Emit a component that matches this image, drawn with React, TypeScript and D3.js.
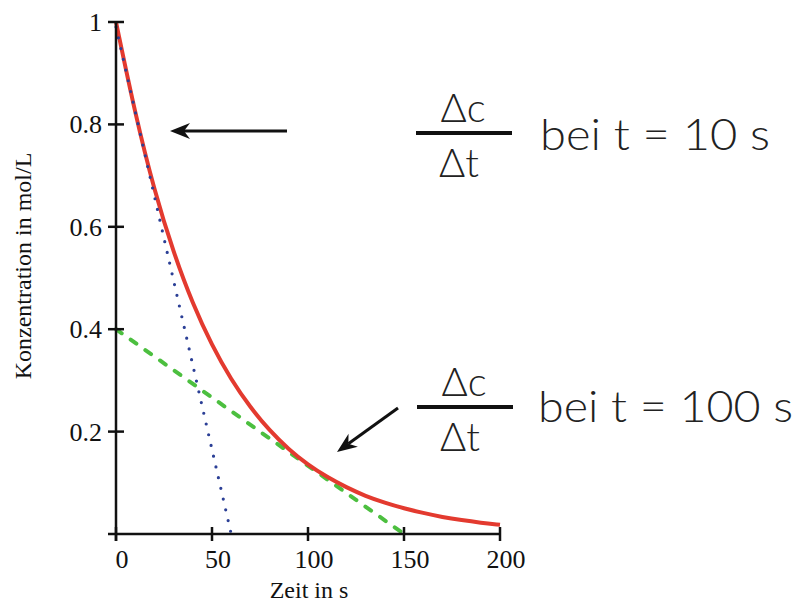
import { useMemo } from "react";
import * as d3 from "d3";

// Konzentration (mol/L) über der Zeit (s)
const times = [0, 10, 20, 30, 40, 50, 60, 70, 80, 90, 100, 110, 120, 130, 140, 150, 160, 170, 180, 190, 200];
const conc = [1.0, 0.82, 0.67, 0.549, 0.449, 0.368, 0.301, 0.247, 0.202, 0.165, 0.135, 0.111, 0.091, 0.074, 0.061, 0.05, 0.041, 0.033, 0.027, 0.022, 0.018];

// Tangenten (Endpunkte)
const tangent10 = [[0, 0.99], [60, 0]];
const tangent100 = [[0, 0.4], [150, 0]];

const xTicks = [0, 50, 100, 150, 200];
const yTicks = [0.2, 0.4, 0.6, 0.8, 1];
const yTickLabels = ["0.2", "0.4", "0.6", "0.8", "1"];

const serif = "'Liberation Serif', 'Times New Roman', serif";
const sans = "Lato, 'DejaVu Sans', sans-serif";

function Arrow({ x1, y1, x2, y2 }: { x1: number; y1: number; x2: number; y2: number }) {
  const a = Math.atan2(y2 - y1, x2 - x1);
  const len = 20, half = 8, notch = 14;
  const pt = (d: number, o: number) => [
    x2 - d * Math.cos(a) - o * Math.sin(a),
    y2 - d * Math.sin(a) + o * Math.cos(a),
  ];
  const p1 = pt(len, half), p2 = pt(notch, 0), p3 = pt(len, -half);
  const end = pt(notch, 0);
  return (
    <g>
      <line x1={x1} y1={y1} x2={end[0]} y2={end[1]} stroke="#111" strokeWidth={3} />
      <path d={`M${x2},${y2}L${p1[0]},${p1[1]}L${p2[0]},${p2[1]}L${p3[0]},${p3[1]}Z`} fill="#111" />
    </g>
  );
}

function Fraction({ cx, lineY }: { cx: number; lineY: number }) {
  return (
    <g fontFamily={sans} fontWeight={300} fill="#222">
      <text x={cx} y={lineY - 11} fontSize={40} textAnchor="middle">Δc</text>
      <line x1={cx - 47} x2={cx + 49} y1={lineY} y2={lineY} stroke="#111" strokeWidth={4} />
      <text x={cx - 4} y={lineY + 44} fontSize={40} textAnchor="middle">Δt</text>
    </g>
  );
}

export default function App() {
  const width = 799;
  const height = 606;

  const x = d3.scaleLinear().domain([0, 200]).range([116, 500]);
  const y = d3.scaleLinear().domain([0, 1]).range([534, 22]);

  const curve = useMemo(() => {
    const line = d3.line<number>()
      .x((_, i) => x(times[i]))
      .y((d) => y(d))
      .curve(d3.curveBasis);
    return line(conc) || "";
  }, []);

  const straight = d3.line<number[]>().x((d) => x(d[0])).y((d) => y(d[1]));

  return (
    <svg width={width} height={height} style={{ position: "absolute", left: 0, top: 0, background: "#fff" }}>
      {/* green tangent, curve, blue tangent on top */}
      <path d={straight(tangent100) || ""} fill="none" stroke="#4cbf3f" strokeWidth={4}
        strokeDasharray="7 11" strokeLinecap="round" />
      <path d={curve} fill="none" stroke="#e33a2f" strokeWidth={4} />
      <path d={straight(tangent10) || ""} fill="none" stroke="#2b3f96" strokeWidth={3.2}
        strokeDasharray="0 11" strokeLinecap="round" />

      {/* axes */}
      <line x1={x(0)} x2={x(0)} y1={y(1)} y2={y(0) + 7} stroke="#111" strokeWidth={2.5} />
      <line x1={x(0) - 8} x2={x(200)} y1={y(0)} y2={y(0)} stroke="#111" strokeWidth={2.5} />
      {yTicks.map((t, i) => (
        <g key={t}>
          <line x1={x(0) - 8} x2={x(0) + 8} y1={y(t)} y2={y(t)} stroke="#111" strokeWidth={2.5} />
          <text x={x(0) - 14} y={y(t) + 9} fontSize={26} fontFamily={serif} textAnchor="end" fill="#111">
            {yTickLabels[i]}
          </text>
        </g>
      ))}
      {xTicks.map((t) => (
        <g key={t}>
          <line x1={x(t)} x2={x(t)} y1={y(0) - 7} y2={y(0) + 7} stroke="#111" strokeWidth={2.5} />
          <text x={x(t) + 6} y={568} fontSize={26} fontFamily={serif} textAnchor="middle" fill="#111">
            {t}
          </text>
        </g>
      ))}
      <text x={309} y={598} fontSize={24} fontFamily={serif} textAnchor="middle" fill="#111">Zeit in s</text>
      <text transform="translate(31,266) rotate(-90)" fontSize={24} fontFamily={serif} textAnchor="middle" fill="#111">
        Konzentration in mol/L
      </text>

      {/* annotations */}
      <Arrow x1={287} y1={131} x2={170} y2={131} />
      <Fraction cx={463} lineY={133} />
      <text x={540} y={150} fontSize={44} fontFamily={sans} fontWeight={300} fill="#222"
        textLength={230} lengthAdjust="spacingAndGlyphs">bei t = 10 s</text>

      <Arrow x1={398} y1={408} x2={337} y2={452} />
      <Fraction cx={464} lineY={407} />
      <text x={538} y={422} fontSize={44} fontFamily={sans} fontWeight={300} fill="#222"
        textLength={255} lengthAdjust="spacingAndGlyphs">bei t = 100 s</text>
    </svg>
  );
}
